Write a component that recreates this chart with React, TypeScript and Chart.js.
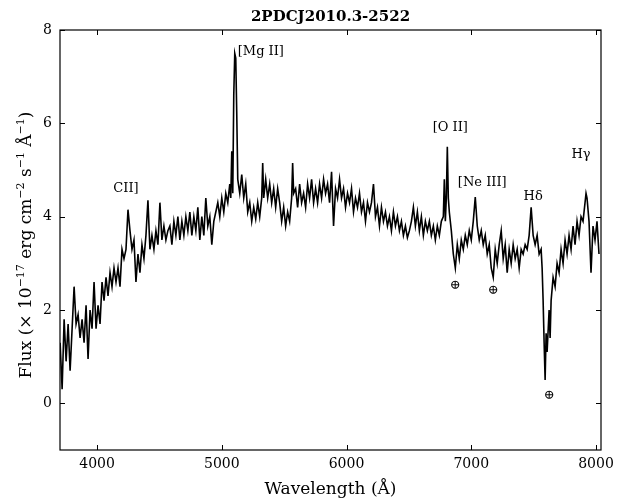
import React, { useEffect, useRef } from "react";
import { Chart, registerables } from "chart.js";

Chart.register(...registerables);

const TITLE = "2PDCJ2010.3-2522";
const X_TITLE = "Wavelength (Å)";
const X_MIN = 3703;
const X_MAX = 8040;
const Y_MIN = -1;
const Y_MAX = 8;
const X_TICKS = [4000, 5000, 6000, 7000, 8000];
const Y_TICKS = [0, 2, 4, 6, 8];

// [wavelength (Å), flux (1e-17 erg cm^-2 s^-1 Å^-1)]
const SPEC_BLUE: [number, number][] = [
  [3704, 1.3], [3720, 0.3], [3736, 1.8], [3752, 0.9], [3768, 1.7], [3784, 0.7],
  [3800, 1.6], [3816, 2.5], [3832, 1.7], [3848, 1.9], [3864, 1.4], [3880, 1.8],
  [3896, 1.3], [3912, 2.1], [3928, 0.95], [3944, 2.0], [3960, 1.6], [3976, 2.6],
  [3992, 1.6], [4008, 2.1], [4024, 1.7], [4040, 2.6], [4056, 2.2], [4072, 2.7],
  [4088, 2.3], [4104, 2.8], [4120, 2.5], [4136, 2.9], [4152, 2.6], [4168, 2.9],
  [4184, 2.5], [4200, 3.3], [4216, 3.1], [4232, 3.3],
];

const SPEC_CII: [number, number][] = [
  [4248, 4.15], [4264, 3.7], [4280, 3.3], [4296, 3.5], [4312, 2.6], [4328, 3.2],
  [4344, 2.8], [4360, 3.4], [4376, 3.1], [4392, 3.6], [4408, 4.35], [4424, 3.3],
  [4440, 3.6], [4456, 3.3], [4472, 3.7], [4488, 3.4], [4504, 4.3], [4520, 3.5],
  [4536, 3.8], [4552, 3.5], [4568, 3.7], [4584, 3.8], [4600, 3.4], [4616, 3.9],
  [4632, 3.6], [4648, 4.0], [4664, 3.5], [4680, 3.9], [4696, 3.6], [4712, 4.0],
  [4728, 3.7], [4744, 4.1], [4760, 3.6], [4776, 4.0], [4792, 3.7], [4808, 4.2],
  [4824, 3.5], [4840, 4.0], [4856, 3.6], [4872, 4.4], [4888, 3.8], [4904, 4.0],
  [4920, 3.4], [4936, 3.9], [4952, 4.1], [4968, 4.3], [4984, 4.0], [5000, 4.4],
  [5016, 4.1], [5032, 4.5], [5048, 4.3], [5064, 4.7],
];

const SPEC_MGII: [number, number][] = [
  [5072, 4.4], [5080, 5.4], [5088, 4.5], [5096, 6.6], [5104, 7.5], [5112, 7.4],
  [5120, 6.2], [5128, 4.8],
];

const SPEC_MID: [number, number][] = [
  [5144, 4.5], [5160, 4.9], [5176, 4.4], [5192, 4.7], [5208, 4.1], [5224, 4.3],
  [5240, 3.9], [5256, 4.2], [5272, 3.95], [5288, 4.3], [5304, 4.0], [5320, 4.4],
  [5328, 5.15], [5336, 4.4], [5352, 4.8], [5368, 4.4], [5384, 4.7], [5400, 4.3],
  [5416, 4.6], [5432, 4.2], [5448, 4.6], [5464, 4.3], [5480, 3.9], [5496, 4.2],
  [5512, 3.8], [5528, 4.1], [5544, 3.9], [5560, 4.4], [5568, 5.15], [5576, 4.5],
  [5592, 4.6], [5608, 4.2], [5624, 4.7], [5640, 4.3], [5656, 4.5], [5672, 4.2],
  [5688, 4.7], [5704, 4.4], [5720, 4.8], [5736, 4.3], [5752, 4.6], [5768, 4.3],
  [5784, 4.7], [5800, 4.4], [5816, 4.8], [5832, 4.5], [5848, 4.7], [5864, 4.3],
  [5880, 4.96], [5896, 3.8], [5912, 4.6], [5928, 4.4], [5944, 4.8], [5960, 4.4],
  [5976, 4.6], [5992, 4.2], [6008, 4.5], [6024, 4.3], [6040, 4.6], [6056, 4.1],
  [6072, 4.4], [6088, 4.2], [6104, 4.5], [6120, 4.1], [6136, 4.3], [6152, 3.9],
  [6168, 4.3], [6184, 4.1], [6200, 4.3], [6216, 4.7], [6232, 4.0], [6248, 4.2],
  [6264, 3.8], [6280, 4.2], [6296, 3.9], [6312, 4.1], [6328, 3.8], [6344, 4.0],
  [6360, 3.7], [6376, 4.1], [6392, 3.8], [6408, 4.0], [6424, 3.7], [6440, 3.9],
  [6456, 3.6], [6472, 3.8], [6488, 3.55], [6504, 3.7], [6520, 3.9], [6536, 4.2],
  [6552, 3.8], [6568, 4.1], [6584, 3.7], [6600, 4.0], [6616, 3.6], [6632, 3.9],
  [6648, 3.7], [6664, 3.9], [6680, 3.6], [6696, 3.8], [6712, 3.5], [6728, 3.8],
  [6744, 3.6], [6760, 3.9], [6776, 4.0],
];

const SPEC_OII: [number, number][] = [
  [6784, 4.8], [6792, 3.9], [6800, 4.4], [6808, 5.5], [6816, 4.4], [6824, 4.1],
];

const SPEC_RED: [number, number][] = [
  [6840, 3.7], [6856, 3.2], [6872, 2.9], [6888, 3.4], [6904, 3.1], [6920, 3.5],
  [6936, 3.3], [6952, 3.6], [6968, 3.4], [6984, 3.7], [7000, 3.5], [7016, 3.9],
  [7032, 4.42], [7048, 3.8], [7064, 3.5], [7080, 3.7], [7096, 3.4], [7112, 3.6],
  [7128, 3.2], [7144, 3.4], [7160, 2.9], [7176, 2.7], [7192, 3.3], [7208, 3.0],
  [7224, 3.4], [7240, 3.7], [7256, 3.1], [7272, 3.4], [7288, 2.8], [7304, 3.3],
  [7320, 3.0], [7336, 3.4], [7352, 3.1], [7368, 3.3], [7384, 2.9], [7400, 3.3],
  [7416, 3.2], [7432, 3.4], [7448, 3.3], [7464, 3.6], [7480, 4.2], [7496, 3.6],
  [7512, 3.4], [7528, 3.6], [7544, 3.2], [7560, 3.3],
];

const SPEC_ABAND: [number, number][] = [
  [7568, 2.9], [7576, 2.2], [7584, 1.3], [7592, 0.5], [7600, 1.5], [7608, 1.1],
  [7624, 2.0], [7632, 1.4], [7640, 2.2],
];

const SPEC_END: [number, number][] = [
  [7656, 2.7], [7672, 2.5], [7688, 3.0], [7704, 2.8], [7720, 3.3], [7736, 3.0],
  [7752, 3.5], [7768, 3.2], [7784, 3.6], [7800, 3.3], [7816, 3.8], [7832, 3.4],
  [7848, 3.9], [7864, 3.6], [7880, 4.0], [7896, 3.9], [7912, 4.3], [7920, 4.5],
  [7928, 4.4], [7944, 3.9], [7960, 2.8], [7976, 3.8], [7992, 3.5], [8008, 3.9],
  [8024, 3.2],
];

// line identifications: text, wavelength, flux of the label centre
const LINE_LABELS = ["CII]", "[Mg II]", "[O II]", "[Ne III]", "Hδ", "Hγ"];
const LINE_LABEL_WL = [4232, 5128, 6832, 7088, 7496, 7880];
const LINE_LABEL_FLUX = [4.61, 7.53, 5.9, 4.74, 4.42, 5.32];
const LINE_LABEL_ALIGN = ["center", "left", "center", "center", "center", "center"];

// telluric absorption markers
const TELLURIC_WL = [6872, 7176, 7624];
const TELLURIC_FLUX = [2.53, 2.42, 0.17];

const SERIF = "'DejaVu Serif', 'Liberation Serif', serif";

const Y_TITLE_PARTS: { t: string; sup: boolean }[] = [
  { t: "Flux (× 10", sup: false },
  { t: "−17", sup: true },
  { t: " erg cm", sup: false },
  { t: "−2", sup: true },
  { t: " s", sup: false },
  { t: "−1", sup: true },
  { t: " Å", sup: false },
  { t: "−1", sup: true },
  { t: ")", sup: false },
];

const decorPlugin = {
  id: "decor",
  afterDraw(chart: any) {
    const { ctx, chartArea: a, scales } = chart;
    const xs = scales.x;
    const ys = scales.y;
    ctx.save();
    ctx.strokeStyle = "#000";
    ctx.lineWidth = 1.2;
    ctx.strokeRect(a.left, a.top, a.right - a.left, a.bottom - a.top);
    ctx.lineWidth = 1;
    ctx.beginPath();
    X_TICKS.forEach((v) => {
      const px = Math.round(xs.getPixelForValue(v)) + 0.5;
      ctx.moveTo(px, a.bottom);
      ctx.lineTo(px, a.bottom - 5);
      ctx.moveTo(px, a.top);
      ctx.lineTo(px, a.top + 5);
    });
    Y_TICKS.forEach((v) => {
      const py = Math.round(ys.getPixelForValue(v)) + 0.5;
      ctx.moveTo(a.left, py);
      ctx.lineTo(a.left + 5, py);
      ctx.moveTo(a.right, py);
      ctx.lineTo(a.right - 5, py);
    });
    ctx.stroke();

    ctx.fillStyle = "#000";
    ctx.textBaseline = "middle";

    // title
    ctx.font = `bold 15px ${SERIF}`;
    ctx.textAlign = "center";
    ctx.fillText(TITLE, (a.left + a.right) / 2, 17);

    // x title
    ctx.font = `17px ${SERIF}`;
    ctx.fillText(X_TITLE, (a.left + a.right) / 2, 490);

    // y title with superscripts
    ctx.save();
    ctx.translate(27, (a.top + a.bottom) / 2 + 5);
    ctx.rotate(-Math.PI / 2);
    const mainFont = `17px ${SERIF}`;
    const supFont = `11px ${SERIF}`;
    let total = 0;
    Y_TITLE_PARTS.forEach((p) => {
      ctx.font = p.sup ? supFont : mainFont;
      total += ctx.measureText(p.t).width;
    });
    let cx = -total / 2;
    ctx.textAlign = "left";
    Y_TITLE_PARTS.forEach((p) => {
      ctx.font = p.sup ? supFont : mainFont;
      ctx.fillText(p.t, cx, p.sup ? -6 : 0);
      cx += ctx.measureText(p.t).width;
    });
    ctx.restore();

    // line labels
    ctx.font = `13px ${SERIF}`;
    LINE_LABELS.forEach((t, i) => {
      ctx.textAlign = LINE_LABEL_ALIGN[i] as CanvasTextAlign;
      ctx.fillText(t, xs.getPixelForValue(LINE_LABEL_WL[i]), ys.getPixelForValue(LINE_LABEL_FLUX[i]));
    });
    ctx.textAlign = "center";
    ctx.font = `13px ${SERIF}`;
    TELLURIC_WL.forEach((w, i) => {
      ctx.fillText("⊕", xs.getPixelForValue(w), ys.getPixelForValue(TELLURIC_FLUX[i]));
    });
    ctx.restore();
  },
};

export default function App() {
  const ref = useRef<HTMLCanvasElement | null>(null);
  useEffect(() => {
    if (!ref.current) return;
    const points = [
      ...SPEC_BLUE,
      ...SPEC_CII,
      ...SPEC_MGII,
      ...SPEC_MID,
      ...SPEC_OII,
      ...SPEC_RED,
      ...SPEC_ABAND,
      ...SPEC_END,
    ].map(([x, y]) => ({ x, y }));
    const tickFont = { family: SERIF, size: 14 };
    const chart = new Chart(ref.current, {
      type: "line",
      data: {
        datasets: [
          {
            data: points,
            borderColor: "#000",
            borderWidth: 1.6,
            pointRadius: 0,
            tension: 0,
            fill: false,
          },
        ],
      },
      options: {
        responsive: false,
        animation: false,
        layout: { padding: { left: 0, right: 33, top: 30, bottom: 0 } },
        plugins: {
          legend: { display: false },
          tooltip: { enabled: false },
          title: { display: false },
        },
        scales: {
          x: {
            type: "linear",
            min: X_MIN,
            max: X_MAX,
            grid: { display: false, drawTicks: false },
            border: { display: false },
            ticks: {
              font: tickFont,
              color: "#000",
              padding: 6,
              maxRotation: 0,
              callback: (v: any) => String(v),
            },
            afterBuildTicks: (s: any) => {
              s.ticks = X_TICKS.map((v) => ({ value: v }));
            },
            afterFit: (s: any) => {
              s.height = 53;
            },
          },
          y: {
            type: "linear",
            min: Y_MIN,
            max: Y_MAX,
            grid: { display: false, drawTicks: false },
            border: { display: false },
            ticks: {
              font: tickFont,
              color: "#000",
              padding: 8,
              callback: (v: any) => String(v),
            },
            afterBuildTicks: (s: any) => {
              s.ticks = Y_TICKS.map((v) => ({ value: v }));
            },
            afterFit: (s: any) => {
              s.width = 60;
            },
          },
        },
      },
      plugins: [decorPlugin],
    });
    return () => chart.destroy();
  }, []);
  return (
    <div style={{ position: "fixed", left: 0, top: 0, width: 634, height: 503, background: "#fff" }}>
      <canvas ref={ref} width={634} height={503} style={{ display: "block" }} />
    </div>
  );
}
